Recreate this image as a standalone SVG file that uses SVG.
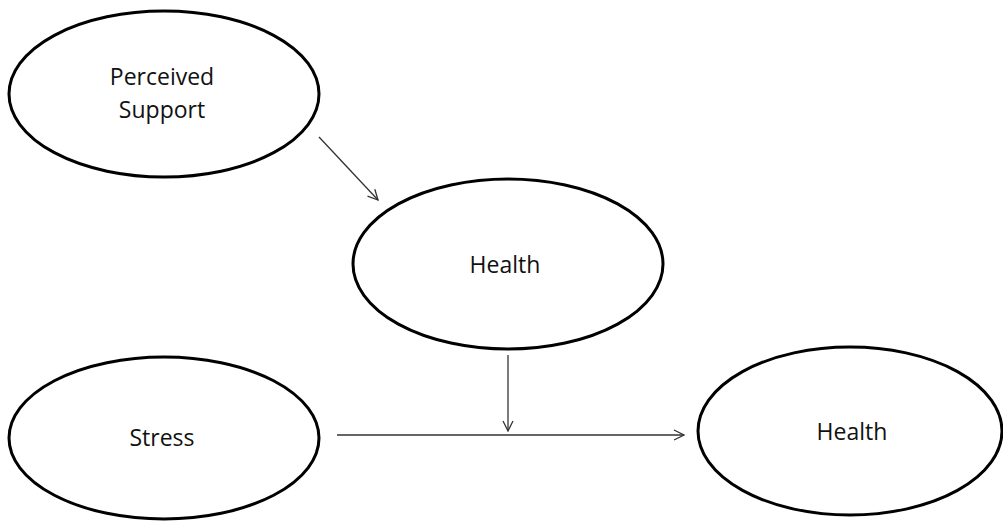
<svg xmlns="http://www.w3.org/2000/svg" width="1003" height="521" viewBox="0 0 1003 521">
<style>
.node{fill:#fff;stroke:#000;stroke-width:3}
.lbl{font-family:"Open Sans","Liberation Sans",sans-serif;font-size:23px;fill:#111;text-anchor:middle}
.conn{stroke:#333;stroke-width:1.3;fill:none;marker-end:url(#arr)}
</style>
<defs>
<marker id="arr" viewBox="0 0 12 12" refX="11" refY="6" markerWidth="12" markerHeight="12" markerUnits="userSpaceOnUse" orient="auto">
<path d="M1,1 L11,6 L1,11" fill="none" stroke="#333" stroke-width="1.3"/>
</marker>
</defs>
<rect width="1003" height="521" fill="#fff"/>
<g id="perceived-support">
<ellipse class="node" cx="164" cy="94" rx="155" ry="83"/>
<text class="lbl" x="162" y="85">Perceived</text>
<text class="lbl" x="162" y="118">Support</text>
</g>
<g id="health-mid">
<ellipse class="node" cx="508" cy="264" rx="155" ry="85"/>
<text class="lbl" x="505" y="273">Health</text>
</g>
<g id="stress">
<ellipse class="node" cx="164" cy="438" rx="155" ry="81"/>
<text class="lbl" x="162" y="446">Stress</text>
</g>
<g id="health-right">
<ellipse class="node" cx="850" cy="431" rx="152" ry="84"/>
<text class="lbl" x="852" y="440">Health</text>
</g>
<g id="connectors">
<line class="conn" x1="319" y1="137" x2="378" y2="200"/>
<line class="conn" x1="508" y1="355" x2="508" y2="431"/>
<line class="conn" x1="337" y1="435" x2="684" y2="435"/>
</g>
</svg>
